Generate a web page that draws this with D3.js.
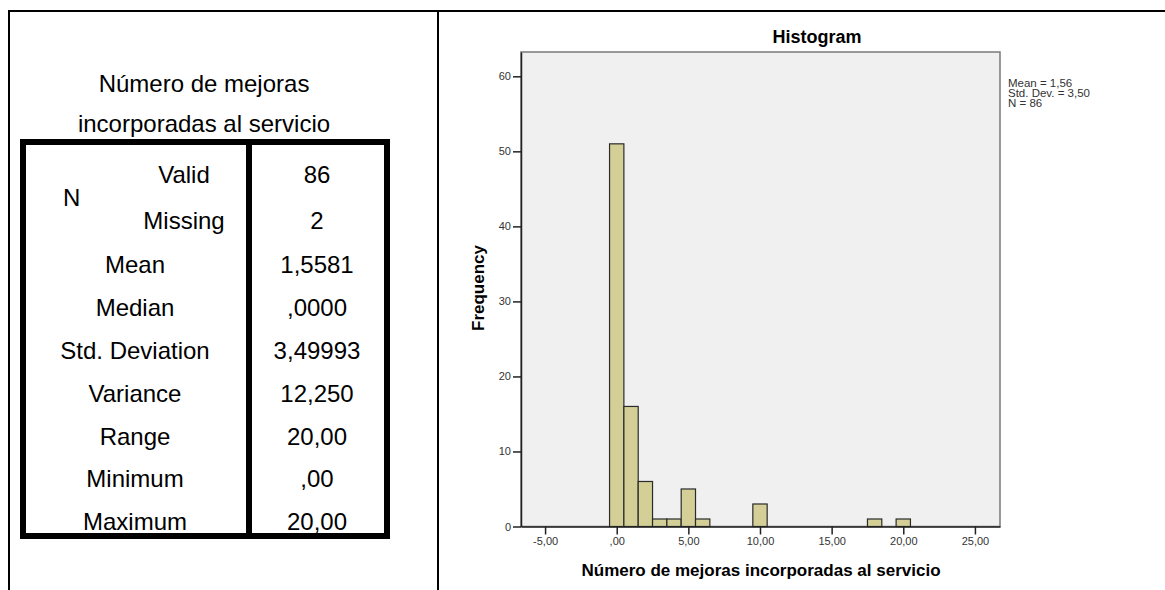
<!DOCTYPE html>
<html>
  <head>
    <meta charset="utf-8">
    <title>Número de mejoras incorporadas al servicio</title>
    <script src="https://d3js.org/d3.v7.min.js"></script>
    <style>
      body { margin: 0; background-color: white; }
      svg { display: block; font-family: 'Liberation Sans', Arial, sans-serif; }
    </style>
  </head>
  <body>
    <svg id="canvas" width="1165" height="590"></svg>

    <script>
      // histogram bins (width 1, centred on the integer) and their counts
      const binCenters = [0, 1, 2, 3, 4, 5, 6, 10, 18, 20]
      const frequencies = [51, 16, 6, 1, 1, 5, 1, 3, 1, 1]
      const xTicks = [-5, 0, 5, 10, 15, 20, 25]
      const yTicks = [0, 10, 20, 30, 40, 50, 60]
      const legendLines = ['Mean = 1,56', 'Std. Dev. = 3,50', 'N = 86']

      // statistics table
      const tableTitle = ['Número de mejoras', 'incorporadas al servicio']
      const nLabels = ['Valid', 'Missing']
      const nValues = ['86', '2']
      const statLabels = ['Mean', 'Median', 'Std. Deviation', 'Variance', 'Range', 'Minimum', 'Maximum']
      const statValues = ['1,5581', ',0000', '3,49993', '12,250', '20,00', ',00', '20,00']

      const svg = d3.select('#canvas')

      // page frame
      svg.append('line').attr('x1', 8).attr('x2', 1165).attr('y1', 11).attr('y2', 11)
        .attr('stroke', '#000').attr('stroke-width', 2)
      svg.append('line').attr('x1', 9).attr('x2', 9).attr('y1', 10).attr('y2', 590)
        .attr('stroke', '#000').attr('stroke-width', 2)
      svg.append('line').attr('x1', 438).attr('x2', 438).attr('y1', 10).attr('y2', 590)
        .attr('stroke', '#000').attr('stroke-width', 2)

      // ---- table ----
      const tbl = svg.append('g').attr('font-size', 24).attr('fill', '#000')

      tbl.selectAll('text.title').data(tableTitle)
        .enter().append('text')
          .attr('class', 'title')
          .attr('x', 204)
          .attr('y', (d, i) => 92 + i * 40)
          .attr('text-anchor', 'middle')
          .text(d => d)

      tbl.append('rect')
        .attr('x', 23).attr('y', 142).attr('width', 364).attr('height', 394)
        .attr('fill', 'none').attr('stroke', '#000').attr('stroke-width', 6)
      tbl.append('line')
        .attr('x1', 249).attr('x2', 249).attr('y1', 139).attr('y2', 539)
        .attr('stroke', '#000').attr('stroke-width', 6)

      const nRowY = [175, 221]
      const statRowY = i => 265 + i * 42.8
      const base = 8.4

      tbl.append('text').attr('x', 63).attr('y', 206).text('N')

      tbl.selectAll('text.nlab').data(nLabels)
        .enter().append('text')
          .attr('class', 'nlab')
          .attr('x', 184)
          .attr('y', (d, i) => nRowY[i] + base)
          .attr('text-anchor', 'middle')
          .text(d => d)
      tbl.selectAll('text.nval').data(nValues)
        .enter().append('text')
          .attr('class', 'nval')
          .attr('x', 317)
          .attr('y', (d, i) => nRowY[i] + base)
          .attr('text-anchor', 'middle')
          .text(d => d)

      tbl.selectAll('text.slab').data(statLabels)
        .enter().append('text')
          .attr('class', 'slab')
          .attr('x', 135)
          .attr('y', (d, i) => statRowY(i) + base)
          .attr('text-anchor', 'middle')
          .text(d => d)
      tbl.selectAll('text.sval').data(statValues)
        .enter().append('text')
          .attr('class', 'sval')
          .attr('x', 317)
          .attr('y', (d, i) => statRowY(i) + base)
          .attr('text-anchor', 'middle')
          .text(d => d)

      // ---- histogram ----
      const plotLeft = 521, plotRight = 1000, plotTop = 52, plotBottom = 526.5

      const x = d3.scaleLinear().domain([-6.68, 26.75]).range([plotLeft, plotRight])
      const y = d3.scaleLinear().domain([0, 63.24]).range([plotBottom, plotTop])

      const locale = d3.formatLocale({ decimal: ',', thousands: '.', grouping: [3], currency: ['', ''], minus: '-' })
      const fmt2 = locale.format('.2f')
      const xFmt = v => fmt2(v).replace(/^0,/, ',')

      svg.append('rect')
        .attr('x', plotLeft).attr('y', plotTop)
        .attr('width', plotRight - plotLeft).attr('height', plotBottom - plotTop)
        .attr('fill', '#f0f0f0')
        .attr('stroke', '#7a7a7a')
        .attr('stroke-width', 1.5)

      svg.append('g').selectAll('rect').data(binCenters)
        .enter().append('rect')
          .attr('x', d => x(d - 0.5))
          .attr('y', (d, i) => y(frequencies[i]))
          .attr('width', d => x(d + 0.5) - x(d - 0.5))
          .attr('height', (d, i) => y(0) - y(frequencies[i]))
          .attr('fill', '#d3cf97')
          .attr('stroke', '#2b2b2b')
          .attr('stroke-width', 1.2)

      const yAxis = svg.append('g')
        .attr('transform', `translate(${plotLeft},0)`)
        .call(d3.axisLeft(y).tickValues(yTicks).tickSize(8).tickSizeOuter(0).tickPadding(2))
      const xAxis = svg.append('g')
        .attr('transform', `translate(0,${plotBottom})`)
        .call(d3.axisBottom(x).tickValues(xTicks).tickFormat(xFmt).tickSize(8).tickSizeOuter(0).tickPadding(3))

      for (const a of [yAxis, xAxis]) {
        a.attr('font-family', null).attr('font-size', 11)
        a.select('.domain').attr('stroke', '#222').attr('stroke-width', 1.5)
        a.selectAll('.tick line').attr('stroke', '#222').attr('stroke-width', 1.5)
        a.selectAll('.tick text').attr('fill', '#333')
      }

      svg.append('text')
        .attr('x', 817).attr('y', 43)
        .attr('text-anchor', 'middle')
        .attr('font-size', 18).attr('font-weight', 'bold')
        .text('Histogram')

      svg.append('text')
        .attr('x', 761).attr('y', 576)
        .attr('text-anchor', 'middle')
        .attr('font-size', 17).attr('font-weight', 'bold')
        .text('Número de mejoras incorporadas al servicio')

      svg.append('text')
        .attr('transform', 'translate(484,288) rotate(-90)')
        .attr('text-anchor', 'middle')
        .attr('font-size', 17).attr('font-weight', 'bold')
        .text('Frequency')

      svg.append('g').selectAll('text').data(legendLines)
        .enter().append('text')
          .attr('x', 1008)
          .attr('y', (d, i) => 86.5 + i * 10.3)
          .attr('font-size', 11.5)
          .attr('fill', '#333')
          .text(d => d)
    </script>
  </body>
</html>
